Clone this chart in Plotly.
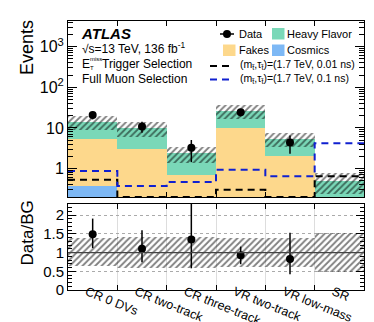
import plotly.graph_objects as go

# ---------------- data ----------------
categories = ["CR 0 DVs", "CR two-track", "CR three-track", "VR two-track", "VR low-mass", "SR"]
cosmics = [0.37, 0, 0, 0, 0, 0]
fakes = [4.9, 3.0, 0.68, 9.7, 2.0, 0]
heavy_flavor = [8.7, 7.0, 1.72, 16.3, 3.4, 0.5]
data = [20.7, 10.9, 3.24, 24.1, 4.4, None]
data_err = [4.5, 3.3, 1.8, 4.9, 2.1, None]
bkg_unc_up = [1.39, 1.43, 1.43, 1.40, 1.39, 1.52]   # relative
bkg_unc_dn = [0.65, 0.60, 0.58, 0.62, 0.62, 0.48]   # relative
ratio = [1.49, 1.10, 1.35, 0.93, 0.83, None]
ratio_err_up = [0.42, 0.50, 1.20, 0.23, 0.70, None]
ratio_err_dn = [0.37, 0.36, 0.77, 0.24, 0.41, None]
sig_001ns = [0.53, 0.2, 0.2, 0.30, 0.2, 0.65]
sig_01ns = [0.87, 0.37, 0.47, 0.93, 0.65, 4.2]
ytick_vals = [1, 10, 100, 1000]
ytick_text = ["1", "10", "10<sup>2</sup>", "10<sup>3</sup>"]
rtick_vals = [0, 0.5, 1, 1.5, 2]
rtick_text = ["0", "0.5", "1", "1.5", "2"]

# ---------------- derived ----------------
n = len(categories)
centers = [i + 0.5 for i in range(n)]
edges = list(range(n + 1))
base_fakes = cosmics
base_hf = [c + f for c, f in zip(cosmics, fakes)]
total = [b + h for b, h in zip(base_hf, heavy_flavor)]
band_base = [t * d for t, d in zip(total, bkg_unc_dn)]
band_h = [t * (u - d) for t, u, d in zip(total, bkg_unc_up, bkg_unc_dn)]
rband_base = bkg_unc_dn
rband_h = [u - d for u, d in zip(bkg_unc_up, bkg_unc_dn)]

C_HF = "#7ad8b8"
C_FK = "#fdd88c"
C_CO = "#7db8f5"
FONT = "Liberation Sans, Arial, sans-serif"

W, H = 374, 322
L, R, T, B = 60, 356, 13, 282


def px(xp):
    return (xp - L) / (R - L)


def py(yp):
    return (B - yp) / (B - T)


hatch = dict(shape="/", fgcolor="black", bgcolor="rgba(0,0,0,0)", size=4.5, solidity=0.4)

fig = go.Figure()

# stacked backgrounds (top panel)
fig.add_trace(go.Bar(x=centers, y=cosmics, width=1, marker=dict(color=C_CO, line=dict(width=0)),
                     xaxis="x", yaxis="y", showlegend=False))
fig.add_trace(go.Bar(x=centers, y=fakes, base=base_fakes, width=1, marker=dict(color=C_FK, line=dict(width=0)),
                     xaxis="x", yaxis="y", showlegend=False))
fig.add_trace(go.Bar(x=centers, y=heavy_flavor, base=base_hf, width=1, marker=dict(color=C_HF, line=dict(width=0)),
                     xaxis="x", yaxis="y", showlegend=False))
# uncertainty hatch
fig.add_trace(go.Bar(x=centers, y=band_h, base=band_base, width=1,
                     marker=dict(color="rgba(0,0,0,0)", line=dict(width=0), pattern=hatch),
                     xaxis="x", yaxis="y", showlegend=False))
# signals
fig.add_trace(go.Scatter(x=edges, y=sig_001ns + [sig_001ns[-1]], mode="lines", line_shape="hv",
                         line=dict(color="black", width=2, dash="7px,5px"),
                         xaxis="x", yaxis="y", showlegend=False))
fig.add_trace(go.Scatter(x=edges, y=sig_01ns + [sig_01ns[-1]], mode="lines", line_shape="hv",
                         line=dict(color="#1020d0", width=2, dash="7px,5px"),
                         xaxis="x", yaxis="y", showlegend=False))
# data
fig.add_trace(go.Scatter(x=centers, y=data, mode="markers",
                         marker=dict(color="black", size=8),
                         error_y=dict(type="data", array=data_err, color="black", thickness=1.5, width=0),
                         xaxis="x", yaxis="y", showlegend=False))

# ratio panel
fig.add_trace(go.Bar(x=centers, y=rband_h, base=rband_base, width=1,
                     marker=dict(color="rgba(0,0,0,0)", line=dict(width=0), pattern=hatch),
                     xaxis="x2", yaxis="y2", showlegend=False))
fig.add_trace(go.Scatter(x=centers, y=ratio, mode="markers",
                         marker=dict(color="black", size=8),
                         error_y=dict(type="data", symmetric=False, array=ratio_err_up,
                                      arrayminus=ratio_err_dn, color="black", thickness=1.5, width=0),
                         xaxis="x2", yaxis="y2", showlegend=False, cliponaxis=True))

minor_log = [v * 10 ** k for k in range(-1, 4) for v in range(2, 10) if 0.2 <= v * 10 ** k <= 4300]

axis_common = dict(showline=True, linecolor="black", linewidth=1, mirror="allticks",
                   tickfont=dict(family=FONT, size=16, color="black"), zeroline=False,
                   automargin=False)

fig.update_layout(
    width=W, height=H,
    margin=dict(l=L, r=W - R, t=T, b=H - B, autoexpand=False),
    paper_bgcolor="white", plot_bgcolor="white",
    barmode="overlay", bargap=0,
    font=dict(family=FONT, color="black"),
    xaxis=dict(domain=[0, 1], anchor="y", range=[0, 6], showticklabels=False,
               tickvals=centers, ticks="", showgrid=False,
               minor=dict(tickvals=edges[1:-1], ticks="inside", ticklen=5, tickcolor="black", showgrid=False),
               **{k: v for k, v in axis_common.items() if k != "tickfont"}),
    yaxis=dict(domain=[py(189), 1], anchor="x", type="log", range=[-0.70, 3.63],
               tickvals=ytick_vals, ticktext=ytick_text, ticks="inside", ticklen=9, tickcolor="black",
               showgrid=False,
               minor=dict(tickvals=minor_log, ticks="inside", ticklen=5, tickcolor="black", showgrid=False),
               **axis_common),
    xaxis2=dict(domain=[0, 1], anchor="y2", matches="x", range=[0, 6],
                tickvals=centers, ticktext=categories, ticks="", tickangle=22,
                ticklabelshift=-6, ticklabelstandoff=-11, automargin=False,
                showgrid=False,
                minor=dict(tickvals=edges[1:-1], ticks="inside", ticklen=5, tickcolor="black",
                           showgrid=True, gridcolor="#dddddd", gridwidth=1),
                showline=True, linecolor="black", linewidth=1, mirror="allticks", zeroline=False,
                tickfont=dict(family=FONT, size=12.5, color="black")),
    yaxis2=dict(domain=[0, py(196)], anchor="x2", range=[0, 2.3], automargin=False,
                tickvals=rtick_vals, ticktext=rtick_text, ticks="inside", ticklen=8, tickcolor="black",
                showgrid=True, gridcolor="#aaaaaa", griddash="dot", gridwidth=1,
                minor=dict(dtick=0.1, ticks="inside", ticklen=4, tickcolor="black", showgrid=False),
                showline=True, linecolor="black", linewidth=1, mirror="allticks", zeroline=False,
                tickfont=dict(family=FONT, size=15, color="black")),
)

shapes = []
# line at ratio 1
shapes.append(dict(type="line", xref="x2 domain", yref="y2", x0=0, x1=1, y0=1, y1=1,
                   line=dict(color="#444", width=1.2), layer="above"))

annotations = []


def txt(text, xp, yp, size, **kw):
    d = dict(text=text, x=px(xp), y=py(yp), xref="paper", yref="paper", showarrow=False,
             xanchor="left", yanchor="middle", font=dict(family=FONT, size=size, color="black"))
    d.update(kw)
    annotations.append(d)


# axis titles
annotations.append(dict(text="Events", x=px(18.5), y=py(10), xref="paper", yref="paper", showarrow=False,
                        textangle=-90, xanchor="center", yanchor="top",
                        font=dict(family=FONT, size=18, color="black")))
annotations.append(dict(text="Data/BG", x=px(19), y=py(191), xref="paper", yref="paper", showarrow=False,
                        textangle=-90, xanchor="center", yanchor="top",
                        font=dict(family=FONT, size=17, color="black")))

# labels
txt("<b><i>ATLAS</i></b>", 71, 25, 15)
txt("\u221As=13 TeV, 136 fb<sup>-1</sup>", 72, 40, 12)
txt("E", 72, 56, 12)
txt("miss", 79.5, 51.5, 6)
txt("T", 79.5, 60, 6)
txt("Trigger Selection", 92, 56, 12)
txt("Full Muon Selection", 72, 71, 12)

# legend
txt("Data", 229, 26, 11)
txt("Heavy Flavor", 277, 26, 11)
txt("Fakes", 229, 42, 11)
txt("Cosmics", 277, 42, 11)
txt("(m<sub>t\u0303</sub>,\u03c4<sub>t\u0303</sub>)=(1.7 TeV, 0.01 ns)", 230, 57, 10.5)
txt("(m<sub>t\u0303</sub>,\u03c4<sub>t\u0303</sub>)=(1.7 TeV, 0.1 ns)", 230, 71, 10.5)

shapes.append(dict(type="line", xref="paper", yref="paper", x0=px(212), x1=px(226), y0=py(26), y1=py(26),
                   line=dict(color="black", width=1.5)))
shapes.append(dict(type="circle", xref="paper", yref="paper", x0=px(215), x1=px(223), y0=py(30), y1=py(22),
                   fillcolor="black", line=dict(color="black", width=0)))
for (x0, y0, col) in [(264, 20, C_HF), (215, 36.5, C_FK), (264, 36.5, C_CO)]:
    shapes.append(dict(type="rect", xref="paper", yref="paper", x0=px(x0), x1=px(x0 + 12.5),
                       y0=py(y0 + 11.5), y1=py(y0), fillcolor=col, line=dict(width=0)))
shapes.append(dict(type="line", xref="paper", yref="paper", x0=px(202), x1=px(226), y0=py(58), y1=py(58),
                   line=dict(color="black", width=2, dash="7px,5px")))
shapes.append(dict(type="line", xref="paper", yref="paper", x0=px(202), x1=px(226), y0=py(71.5), y1=py(71.5),
                   line=dict(color="#1020d0", width=2, dash="7px,5px")))

fig.update_layout(shapes=shapes, annotations=annotations)

fig.write_html("out.html")
